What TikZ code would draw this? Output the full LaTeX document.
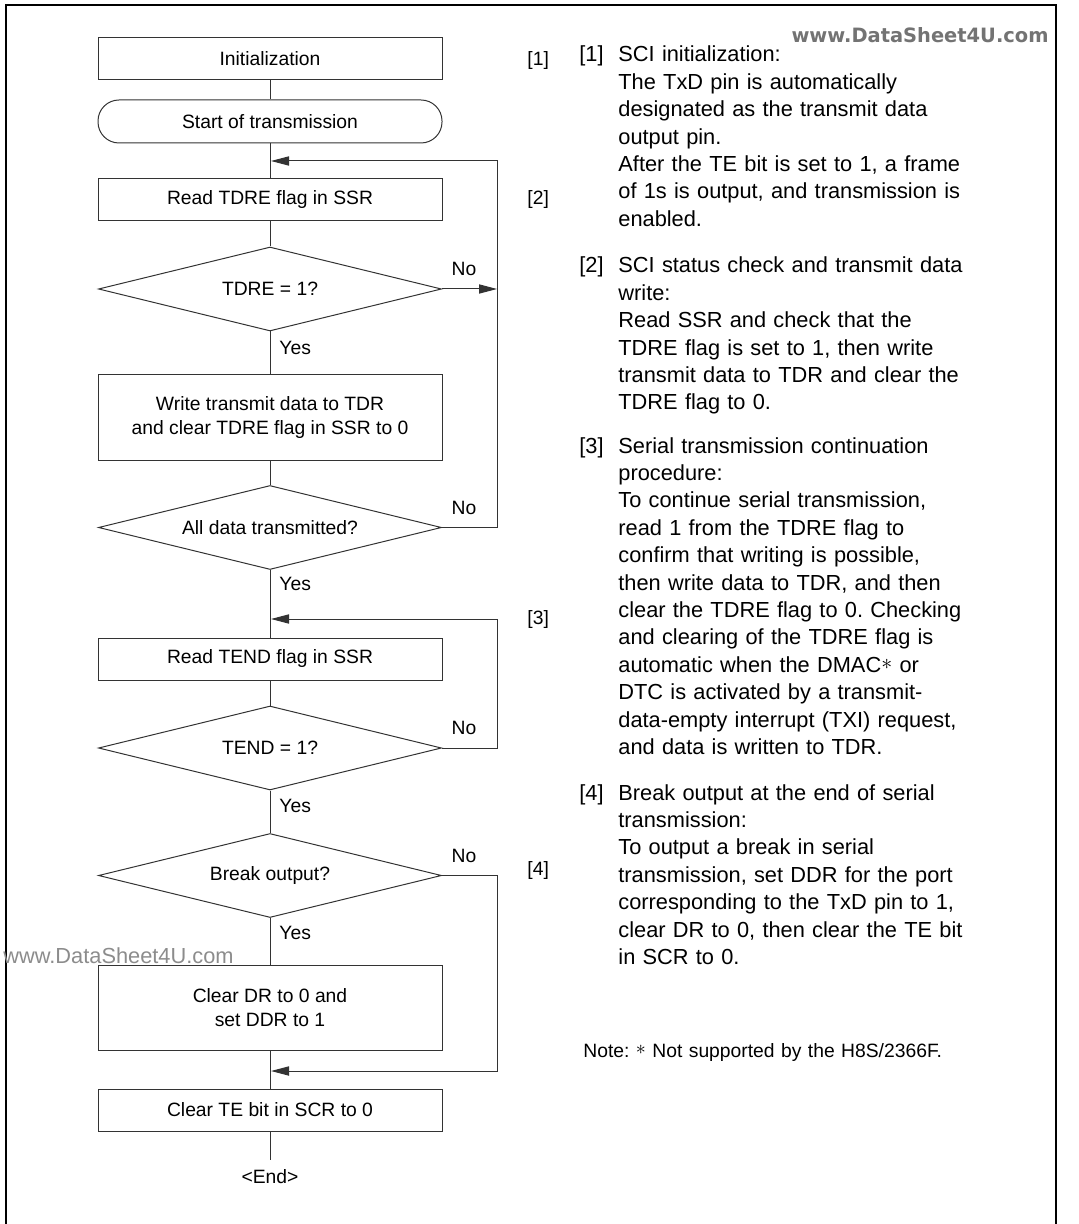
\documentclass[tikz,border=0pt]{standalone}
\usepackage{fontspec}
\setmainfont{Liberation Sans}
\newfontfamily\wmfont{DejaVu Sans}
\usepackage{graphicx}
\usetikzlibrary{shapes.geometric,arrows.meta}
\newcommand{\myast}{\raisebox{1.2pt}{$\ast$}}
\begin{document}
\frenchspacing
\begin{tikzpicture}[x=0.5pt,y=-0.5pt,
 fc/.style={draw=black!80, line width=0.5pt, minimum width=172pt, inner sep=0pt, font=\fontsize{9.65pt}{12.2pt}\selectfont, align=center},
 proc/.style={fc, rectangle, minimum height=21pt},
 proc2/.style={fc, rectangle, minimum height=42.5pt},
 dec/.style={fc, diamond, aspect=4, minimum width=171.5pt, minimum height=42pt},
 ln/.style={draw=black!80, line width=0.5pt},
 arr/.style={ln, -{Triangle[length=9pt,width=4.6pt]}},
 lbl/.style={font=\fontsize{9.65pt}{12pt}\selectfont, inner sep=0pt},
 desc/.style={font=\fontsize{10.9pt}{13.7pt}\selectfont, inner sep=0pt, anchor=base west, text width=200pt, align=left},
]
\useasboundingbox (0,0) rectangle (1079,1224);
% outer frame
\draw[line width=1pt] (6,1224) -- (6,5) -- (1056,5) -- (1056,1224);
% watermarks
\node[text=black!45, font=\fontsize{10.9pt}{12pt}\selectfont, anchor=base west, inner sep=0pt] (wm2) at (3,963) {www.DataSheet4U.com};
\node[text=black!55, inner sep=0pt] (wm1) at (920,35.5) {\resizebox{128.5pt}{7.5pt}{\wmfont\bfseries www.DataSheet4U.com}};

% flowchart nodes
\node[proc] (init) at (270,59) {Initialization};
\node[proc, rounded corners=10.5pt, minimum height=21.5pt] (start) at (270,121.5) {Start of transmission};
\node[proc] (rtdre) at (270,199.5) {Read TDRE flag in SSR};
\node[dec] (dtdre) at (270,289) {TDRE = 1?};
\node[proc2] (wr) at (270,417.5) {Write transmit data to TDR\\and clear TDRE flag in SSR to 0};
\node[dec] (dall) at (270,527.5) {All data transmitted?};
\node[proc] (rtend) at (270,659) {Read TEND flag in SSR};
\node[dec] (dtend) at (270,748) {TEND = 1?};
\node[dec] (dbrk) at (270,875.5) {Break output?};
\node[proc2] (clr) at (270,1007.5) {Clear DR to 0 and\\set DDR to 1};
\node[proc] (clrte) at (270,1110) {Clear TE bit in SCR to 0};
\node[lbl, inner ysep=5pt] (endn) at (270,1177) {<End>};

% main flow
\draw[ln] (init) -- (start);
\draw[ln] (start) -- (rtdre);
\draw[ln] (rtdre) -- (dtdre);
\draw[ln] (dtdre) -- (wr);
\draw[ln] (wr) -- (dall);
\draw[ln] (dall) -- (rtend);
\draw[ln] (rtend) -- (dtend);
\draw[ln] (dtend) -- (dbrk);
\draw[ln] (dbrk) -- (clr);
\draw[ln] (clr) -- (clrte);
\draw[ln] (clrte) -- (endn);

% loop coordinates
\coordinate (l1t) at (497,161);
\coordinate (m1) at (271,161);
\coordinate (l1n) at (497,289);
\coordinate (l1b) at (497,527.5);
\coordinate (l3t) at (497,619);
\coordinate (m3) at (271,619);
\coordinate (l3b) at (497,748);
\coordinate (l4t) at (497,875.5);
\coordinate (l4b) at (497,1071);
\coordinate (m4) at (271,1071);

\draw[arr] (dtdre.east) -- (l1n);
\draw[arr] (dall.east) -- (l1b) -- (l1t) -- (m1);
\draw[arr] (dtend.east) -- (l3b) -- (l3t) -- (m3);
\draw[arr] (dbrk.east) -- (l4t) -- (l4b) -- (m4);

% Yes / No labels
\node[lbl, anchor=west] (y1) at (279,348) {Yes};
\node[lbl, anchor=west] (y2) at (279,584) {Yes};
\node[lbl, anchor=west] (y3) at (279,806) {Yes};
\node[lbl, anchor=west] (y4) at (279,933) {Yes};
\node[lbl] (n1) at (464,269) {No};
\node[lbl] (n2) at (464,508) {No};
\node[lbl] (n3) at (464,728) {No};
\node[lbl] (n4) at (464,856) {No};

% step markers near flowchart
\node[lbl, anchor=base west] (k1) at (527,66) {[1]};
\node[lbl, anchor=base west] (k2) at (527,205) {[2]};
\node[lbl, anchor=base west] (k3) at (527,624) {[3]};
\node[lbl, anchor=base west] (k4) at (527,875) {[4]};

% descriptions
\node[desc, text width=20pt] (t1l) at (579,62) {[1]};
\node[desc] (t1) at (618,62) {SCI initialization:\\The TxD pin is automatically\\designated as the transmit data\\output pin.\\After the TE bit is set to 1, a frame\\of 1s is output, and transmission is\\enabled.};
\node[desc, text width=20pt] (t2l) at (579,273) {[2]};
\node[desc] (t2) at (618,273) {SCI status check and transmit data\\write:\\Read SSR and check that the\\TDRE flag is set to 1, then write\\transmit data to TDR and clear the\\TDRE flag to 0.};
\node[desc, text width=20pt] (t3l) at (579,453) {[3]};
\node[desc] (t3) at (618,453) {Serial transmission continuation\\procedure:\\To continue serial transmission,\\read 1 from the TDRE flag to\\confirm that writing is possible,\\then write data to TDR, and then\\clear the TDRE flag to 0. Checking\\and clearing of the TDRE flag is\\automatic when the DMAC\myast{} or\\DTC is activated by a transmit-\\data-empty interrupt (TXI) request,\\and data is written to TDR.};
\node[desc, text width=20pt] (t4l) at (579,800) {[4]};
\node[desc] (t4) at (618,800) {Break output at the end of serial\\transmission:\\To output a break in serial\\transmission, set DDR for the port\\corresponding to the TxD pin to 1,\\clear DR to 0, then clear the TE bit\\in SCR to 0.};
\node[desc, font=\fontsize{9.65pt}{12pt}\selectfont] (note) at (583,1057) {Note: \myast{} Not supported by the H8S/2366F.};
\end{tikzpicture}
\end{document}
